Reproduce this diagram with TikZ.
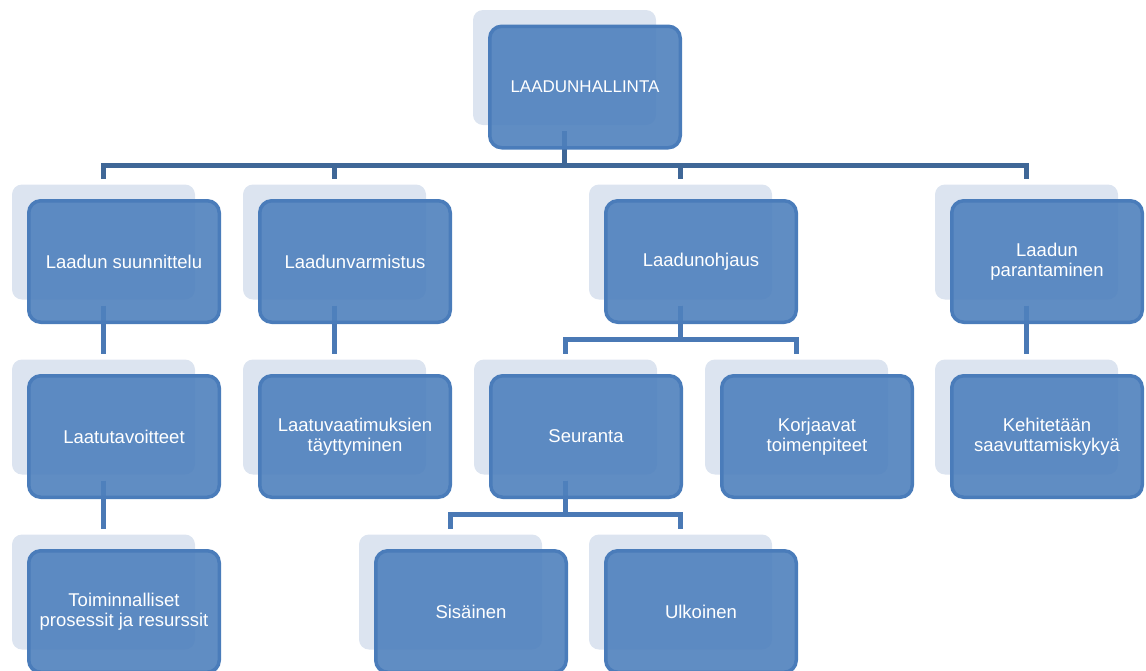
\documentclass[tikz,border=0pt]{standalone}
\usepackage{fontspec}
\setmainfont{Liberation Sans}
\definecolor{varjo}{HTML}{DCE4F0}
\definecolor{laatikko}{HTML}{4F81BD}
\definecolor{reuna}{HTML}{4A7CBA}
\definecolor{haaratumma}{HTML}{3F6797}
\definecolor{haaravalo}{HTML}{4A79B5}
\tikzset{
  tausta/.style={fill=varjo, rounded corners=10pt, minimum width=183pt,
    minimum height=115pt, inner sep=0pt, outer sep=6pt},
  osa/.style={fill=laatikko, fill opacity=0.9, text opacity=1, draw=reuna,
    line width=3.5pt, rounded corners=12pt, minimum width=190.5pt,
    minimum height=121.5pt, inner sep=0pt, text=white, align=center,
    font=\fontsize{18.5}{19.5}\selectfont},
  haara1/.style={draw=haaratumma, line width=5pt},
  haara2/.style={draw=haaravalo, line width=5pt}
}
\begin{document}
\begin{tikzpicture}[x=1pt, y=-1pt]
\useasboundingbox (0,0) rectangle (1146,670);
% taustalaatat
\node[tausta] (hallinta) at (564.5,67.5) {};
\node[tausta] (suunnittelu) at (103.5,242) {};
\node[tausta] (varmistus) at (334.5,242) {};
\node[tausta] (ohjaus) at (680.5,242) {};
\node[tausta] (parantaminen) at (1026.5,242) {};
\node[tausta] (tavoitteet) at (103.5,417) {};
\node[tausta] (vaatimukset) at (334.5,417) {};
\node[tausta] (seuranta) at (565.5,417) {};
\node[tausta] (korjaavat) at (796.5,417) {};
\node[tausta] (kehitys) at (1026.5,417) {};
\node[tausta] (prosessit) at (103.5,592) {};
\node[tausta] (sisainen) at (450.5,592) {};
\node[tausta] (ulkoinen) at (680.5,592) {};
% haarat
\foreach \lapsi in {suunnittelu,varmistus,ohjaus,parantaminen}
  \draw[haara1] (hallinta.south) -- ++(0,34) -| (\lapsi.north);
\draw[haara2] (suunnittelu.south) -- (tavoitteet.north);
\draw[haara2] (varmistus.south) -- (vaatimukset.north);
\draw[haara2] (ohjaus.south) -- ++(0,34) -| (seuranta.north);
\draw[haara2] (ohjaus.south) -- ++(0,34) -| (korjaavat.north);
\draw[haara2] (parantaminen.south) -- (kehitys.north);
\draw[haara2] (tavoitteet.south) -- (prosessit.north);
\draw[haara2] (seuranta.south) -- ++(0,34) -| (sisainen.north);
\draw[haara2] (seuranta.south) -- ++(0,34) -| (ulkoinen.north);
% laatikot
\node[osa, font=\fontsize{17}{19.5}\selectfont] (hallinta-b) at ([shift={(20.5,19.5)}]hallinta.center) {LAADUNHALLINTA};
\node[osa] (suunnittelu-b) at ([shift={(20.5,19.5)}]suunnittelu.center) {Laadun suunnittelu};
\node[osa] (varmistus-b) at ([shift={(20.5,19.5)}]varmistus.center) {Laadunvarmistus};
\node[osa] (ohjaus-b) at ([shift={(20.5,19.5)}]ohjaus.center) {Laadunohjaus};
\node[osa] (parantaminen-b) at ([shift={(20.5,19.5)}]parantaminen.center) {Laadun\\parantaminen};
\node[osa] (tavoitteet-b) at ([shift={(20.5,19.5)}]tavoitteet.center) {Laatutavoitteet};
\node[osa] (vaatimukset-b) at ([shift={(20.5,19.5)}]vaatimukset.center) {Laatuvaatimuksien\\täyttyminen};
\node[osa] (seuranta-b) at ([shift={(20.5,19.5)}]seuranta.center) {Seuranta};
\node[osa] (korjaavat-b) at ([shift={(20.5,19.5)}]korjaavat.center) {Korjaavat\\toimenpiteet};
\node[osa] (kehitys-b) at ([shift={(20.5,19.5)}]kehitys.center) {Kehitetään\\saavuttamiskykyä};
\node[osa] (prosessit-b) at ([shift={(20.5,19.5)}]prosessit.center) {Toiminnalliset\\prosessit ja resurssit};
\node[osa] (sisainen-b) at ([shift={(20.5,19.5)}]sisainen.center) {Sisäinen};
\node[osa] (ulkoinen-b) at ([shift={(20.5,19.5)}]ulkoinen.center) {Ulkoinen};
\end{tikzpicture}
\end{document}
